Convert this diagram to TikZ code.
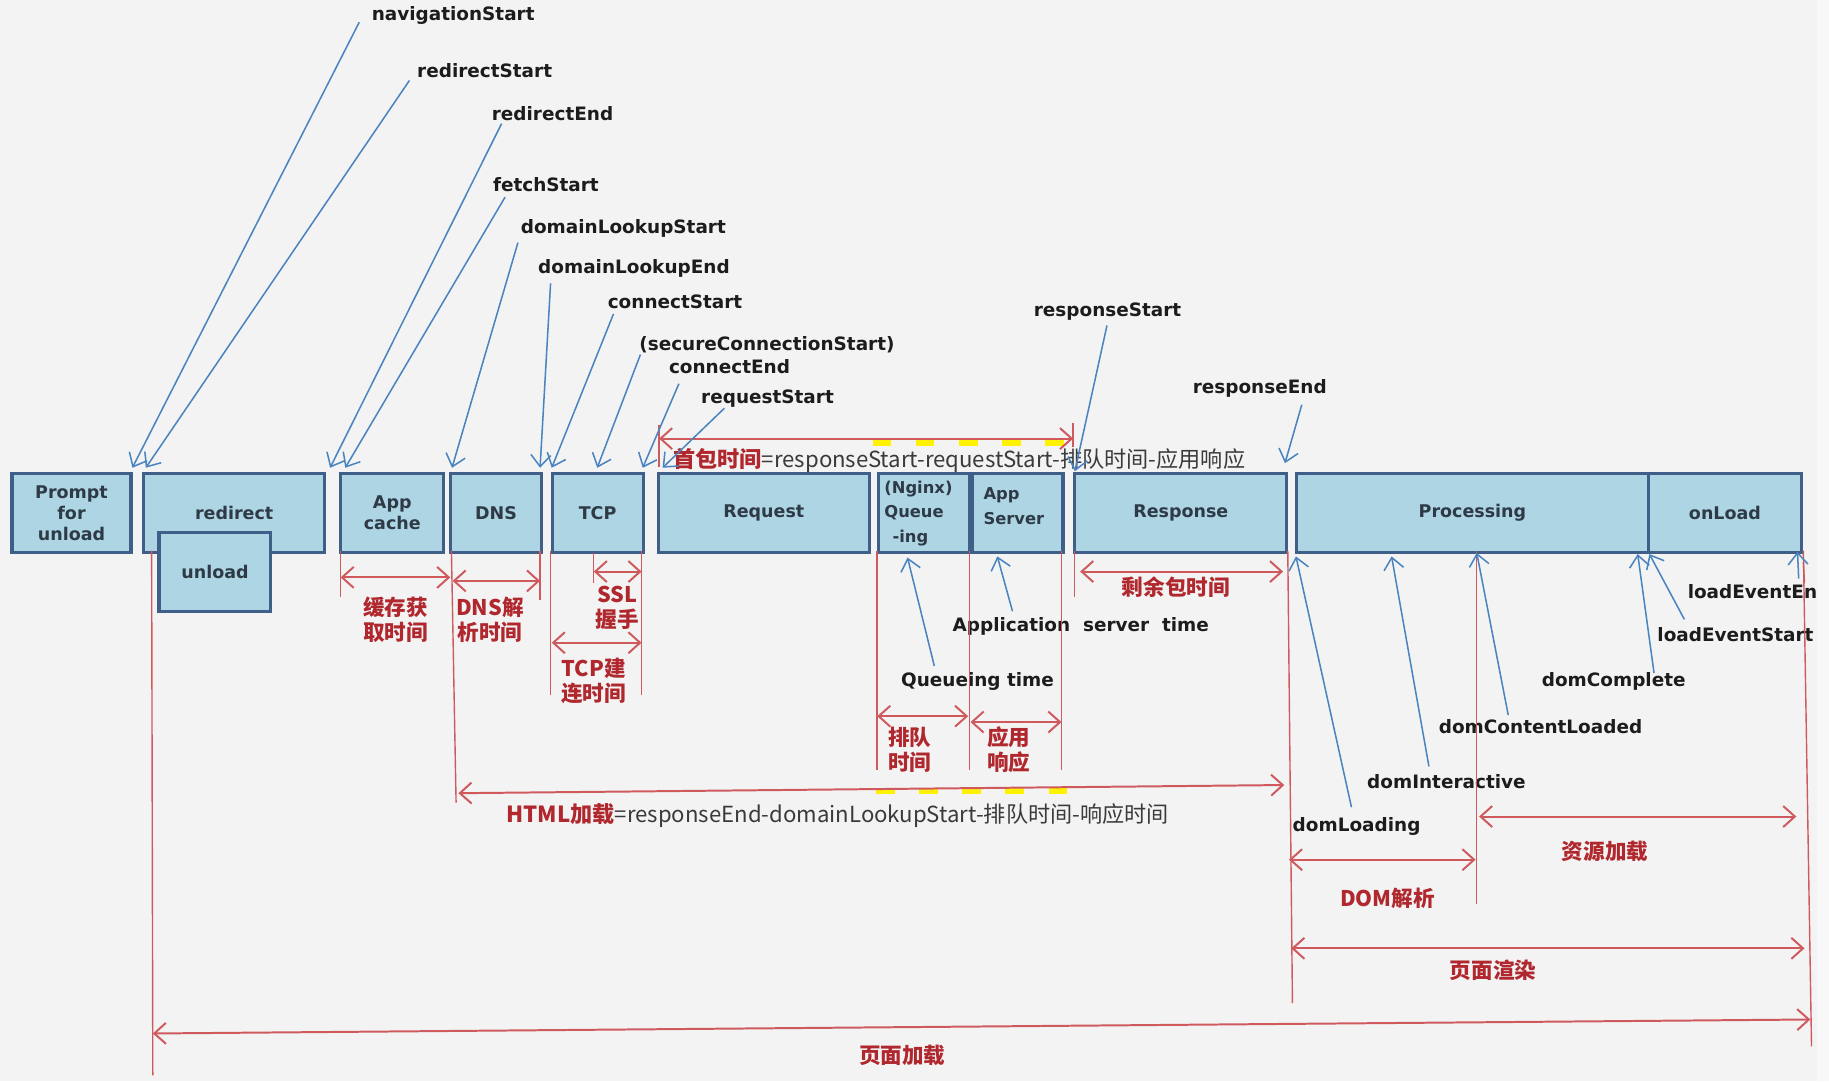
\documentclass[tikz,border=0pt]{standalone}
\usepackage{fontspec}
\setmainfont{DejaVu Sans}
\newfontfamily\cjk{Noto Sans CJK SC}
\usetikzlibrary{arrows.meta}

\definecolor{bg}{HTML}{F3F3F3}
\definecolor{edgestrip}{HTML}{F8F8F8}
\definecolor{boxfill}{HTML}{ADD5E4}
\definecolor{boxline}{HTML}{3F5F88}
\definecolor{boxtext}{HTML}{2E3A46}
\definecolor{evtext}{HTML}{1C1C1C}
\definecolor{leadblue}{HTML}{4A84C0}
\definecolor{dimred}{HTML}{CF5A5E}
\definecolor{labred}{HTML}{B0282E}
\definecolor{formgray}{HTML}{3A3A3A}
\definecolor{hiyellow}{HTML}{FFF200}

\begin{document}
\begin{tikzpicture}[x=1pt,y=-1pt,
  tbox/.style={draw=boxline, fill=boxfill, line width=2.6pt, text=boxtext,
    font=\bfseries\fontsize{15}{18}\selectfont, align=center, inner sep=0pt,
    anchor=north west, minimum height=67pt},
  boxlab/.style={text=boxtext, font=\bfseries\fontsize{14}{21}\selectfont,
    align=left, inner sep=0pt},
  evt/.style={font=\bfseries\fontsize{15.8}{18}\selectfont, text=evtext, inner sep=0pt},
  lead/.style={draw=leadblue, line width=1.3pt,
    -{Straight Barb[length=10pt,width=17pt]}},
  wall/.style={draw=dimred, line width=1.2pt},
  span/.style={draw=dimred, line width=1.7pt,
    {Straight Barb[length=10pt,width=18pt]}-{Straight Barb[length=10pt,width=18pt]}},
  cnlab/.style={font=\cjk\bfseries\fontsize{18.5}{21.5}\selectfont, text=labred,
    align=center, inner sep=0pt},
  formula/.style={font=\cjk\fontsize{19}{22}\selectfont, text=formgray,
    inner sep=0pt, anchor=west},
  hilite/.style={draw=hiyellow, line width=5pt, dash pattern=on 16pt off 21pt}
]
% canvas
\fill[bg] (0,0) rectangle (1568,927);
\path[use as bounding box] (0,0) rectangle (1568,927);

% yellow marks under the first-packet and HTML spans
\draw[hilite] (748,380) -- (912,380);
\draw[hilite] (751,678) -- (916,678);

% phase boxes
\node[tbox, minimum width=102] (prompt) at (9,405) {Prompt\\for\\unload};
\node[tbox, minimum width=155] (redirect) at (122,405) {redirect};
\node[tbox, minimum width=96, minimum height=68] (unload) at (135,455) {unload};
\node[tbox, minimum width=88] (appcache) at (291,405) {App\\cache};
\node[tbox, minimum width=78] (dns) at (385,405) {DNS};
\node[tbox, minimum width=78] (tcp) at (472,405) {TCP};
\node[tbox, minimum width=181] (request) at (563,405) {Request};
\node[tbox, minimum width=78] (queue) at (752,405) {};
\node[tbox, minimum width=78] (appsrv) at (832,405) {};
\node[tbox, minimum width=182] (response) at (920,405) {Response};
\node[tbox, minimum width=302] (processing) at (1110,405) {Processing};
\node[tbox, minimum width=131] (onload) at (1412,405) {onLoad};
\node[boxlab, anchor=north west] (queue-t) at (758,412) {(Nginx)\\Queue\\\hspace*{7pt}-ing};
\node[boxlab, anchor=north west] (appsrv-t) at (843,418) {App\\Server};

% timing event labels
\node[evt] (nav)    at (388.5,13.7)  {navigationStart};
\node[evt] (rstart) at (415.5,60.6)  {redirectStart};
\node[evt] (rend)   at (473.7,97)    {redirectEnd};
\node[evt] (fetch)  at (468,158.6)   {fetchStart};
\node[evt] (dls)    at (534.4,195.7) {domainLookupStart};
\node[evt] (dle)    at (543.5,230)   {domainLookupEnd};
\node[evt] (cs)     at (578.7,258.6) {connectStart};
\node[evt] (scs)    at (657.5,295.8) {(secureConnectionStart)};
\node[evt] (ce)     at (625.4,314)   {connectEnd};
\node[evt] (rqs)    at (658,341.5)   {requestStart};
\node[evt] (rsps)   at (949.5,267)   {responseStart};
\node[evt] (rspe)   at (1080,333)    {responseEnd};
\node[evt] (ast)    at (926.5,537)   {Application\ \ server\ \ time};
\node[evt] (qt)     at (838,584.4)   {Queueing time};
\node[evt] (dl)     at (1163,708.7)  {domLoading};
\node[evt] (di)     at (1240,670)    {domInteractive};
\node[evt] (dcl)    at (1320.7,623)  {domContentLoaded};
\node[evt] (dc)     at (1383.4,584.4){domComplete};
\node[evt] (les)    at (1487.8,544.4){loadEventStart};
\node[evt, anchor=west] (lee) at (1446.7,507) {loadEventEnd};

% duration labels
\node[cnlab] (l-cache) at (339,531)   {缓存获\\取时间};
\node[cnlab] (l-dns)   at (420,531)   {DNS解\\析时间};
\node[cnlab] (l-ssl)   at (529,521.5) {SSL\\握手};
\node[cnlab] (l-tcp)   at (509,584)   {TCP建\\连时间};
\node[cnlab] (l-rest)  at (1008,503)  {剩余包时间};
\node[cnlab] (l-queue) at (780,643)   {排队\\时间};
\node[cnlab] (l-app)   at (865,643)   {应用\\响应};
\node[cnlab] (l-res)   at (1376,730)  {资源加载};
\node[cnlab] (l-dom)   at (1189.5,770){DOM解析};
\node[cnlab] (l-rend)  at (1280,831.6){页面渲染};
\node[cnlab] (l-page)  at (773.5,904.4){页面加载};
\node[formula] (f-first) at (577,394.4)
  {{\bfseries\color{labred}首包时间}=responseStart-requestStart-排队时间-应用响应};
\node[formula] (f-html) at (434,699)
  {{\bfseries\color{labred}HTML加载}=responseEnd-domainLookupStart-排队时间-响应时间};

% guide lines
\draw[wall] (130,472) -- (131,922);
\draw[wall] (292,472) -- (292,512);
\draw[wall] (387,472) -- (391,688);
\draw[wall] (463,472) -- (463,514);
\draw[wall] (472,472) -- (472,596);
\draw[wall] (509,474) -- (509,500);
\draw[wall] (550,472) -- (550,596);
\draw[wall] (565,364) -- (565,400);
\draw[wall] (920,363) -- (920,383);
\draw[wall] (752,472) -- (752,660);
\draw[wall] (831,472) -- (831,660);
\draw[wall] (910,472) -- (910,660);
\draw[wall] (921,472) -- (921,512);
\draw[wall] (1104,472) -- (1108,860);
\draw[wall] (1266,472) -- (1266,775);
\draw[wall] (1546,472) -- (1553,897);

% durations
\coordinate (s-cache-a) at (292,495);  \coordinate (s-cache-b) at (386,495);
\coordinate (s-dns-a)   at (388,498);  \coordinate (s-dns-b)   at (463,498);
\coordinate (s-ssl-a)   at (509,490);  \coordinate (s-ssl-b)   at (550,490);
\coordinate (s-tcp-a)   at (473,551);  \coordinate (s-tcp-b)   at (550,551);
\coordinate (s-first-a) at (565,376);  \coordinate (s-first-b) at (920,376);
\coordinate (s-rest-a)  at (926,490);  \coordinate (s-rest-b)  at (1100,490);
\coordinate (s-queue-a) at (752,614);  \coordinate (s-queue-b) at (830,614);
\coordinate (s-app-a)   at (832,619);  \coordinate (s-app-b)   at (910,619);
\coordinate (s-html-a)  at (393,680);  \coordinate (s-html-b)  at (1101,673);
\coordinate (s-res-a)   at (1268,700); \coordinate (s-res-b)   at (1540,700);
\coordinate (s-dom-a)   at (1105,737); \coordinate (s-dom-b)   at (1265,737);
\coordinate (s-rend-a)  at (1107,813); \coordinate (s-rend-b)  at (1547,813);
\coordinate (s-page-a)  at (131,886);  \coordinate (s-page-b)  at (1552,874);
\foreach \s in {cache,dns,ssl,tcp,first,rest,queue,app,html,res,dom,rend,page}
  \draw[span] (s-\s-a) -- (s-\s-b);

% event leaders
\coordinate (nav-a) at (308,19);     \coordinate (nav-b) at (113.5,401);
\coordinate (rstart-a) at (351,69);  \coordinate (rstart-b) at (125,401);
\coordinate (rend-a) at (430,106);   \coordinate (rend-b) at (283,401);
\coordinate (fetch-a) at (433,169);  \coordinate (fetch-b) at (296,401);
\coordinate (dls-a) at (444,208);    \coordinate (dls-b) at (387.5,401);
\coordinate (dle-a) at (472,243);    \coordinate (dle-b) at (463,401);
\coordinate (cs-a) at (526,269);     \coordinate (cs-b) at (473,401);
\coordinate (scs-a) at (549,304);    \coordinate (scs-b) at (512,401);
\coordinate (ce-a) at (582,329);     \coordinate (ce-b) at (551,401);
\coordinate (rqs-a) at (621,350);    \coordinate (rqs-b) at (568,401);
\coordinate (rsps-a) at (949,279);   \coordinate (rsps-b) at (921.5,404);
\coordinate (rspe-a) at (1116,347);  \coordinate (rspe-b) at (1101.6,397);
\coordinate (ast-a) at (868,524);    \coordinate (ast-b) at (855,477);
\coordinate (qt-a) at (801,571);     \coordinate (qt-b) at (778,478);
\coordinate (dl-a) at (1158.6,692);  \coordinate (dl-b) at (1111,477);
\coordinate (di-a) at (1225,657);    \coordinate (di-b) at (1193,477);
\coordinate (dcl-a) at (1293,613);   \coordinate (dcl-b) at (1266,474);
\coordinate (dc-a) at (1418,577);    \coordinate (dc-b) at (1404,475);
\coordinate (les-a) at (1444,531);   \coordinate (les-b) at (1414,475);
\coordinate (lee-a) at (1542,496);   \coordinate (lee-b) at (1541,473);
\foreach \e in {nav,rstart,rend,fetch,dls,dle,cs,scs,ce,rqs,rsps,rspe,ast,qt,dl,di,dcl,dc,les,lee}
  \draw[lead] (\e-a) -- (\e-b);
\draw[wall] (1546,482) -- (1547,500);

% right border strip
\fill[edgestrip] (1557.5,0) rectangle (1568,927);
\end{tikzpicture}
\end{document}
